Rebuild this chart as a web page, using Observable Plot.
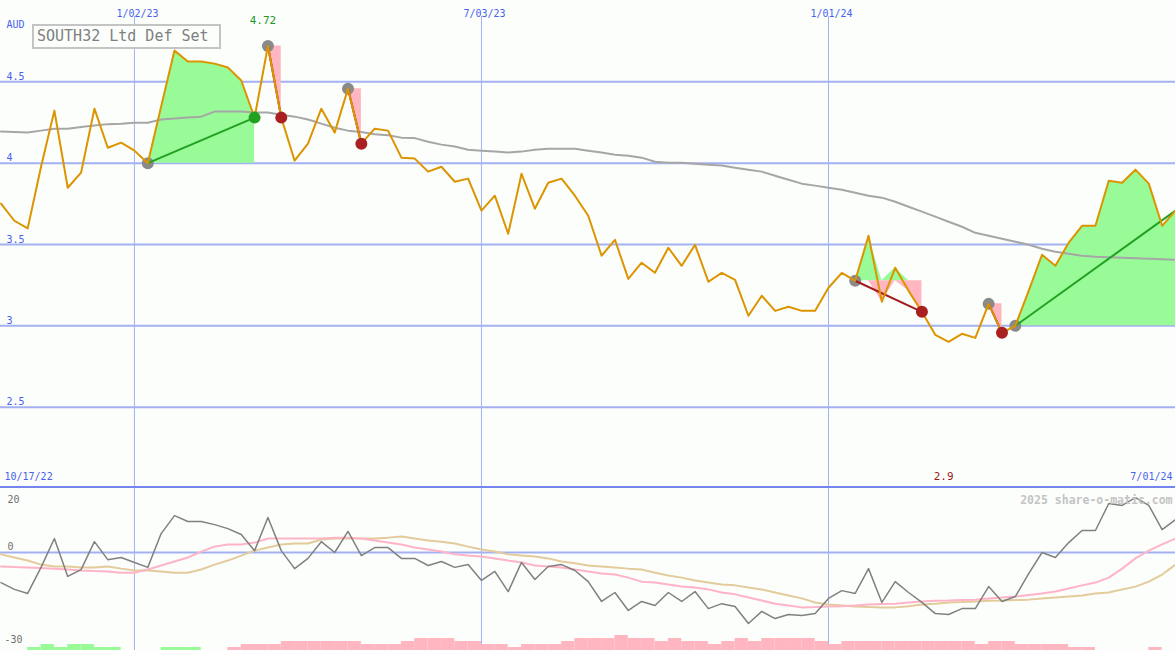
<!DOCTYPE html>
<html><head><meta charset="utf-8">
<script src="https://cdn.jsdelivr.net/npm/d3@7"></script>
<script src="https://cdn.jsdelivr.net/npm/@observablehq/plot@0.6"></script>
<style>
html,body{margin:0;padding:0;background:#fbfefb;}
#chart{position:relative;width:1175px;height:650px;overflow:hidden;background:#fbfefb;font-family:"DejaVu Sans Mono",monospace;}
#chart svg{position:absolute;left:0;}
#title{position:absolute;left:32px;top:24px;width:182px;height:21px;border:2px solid #c4c4c4;color:#7f7f7f;font:15px "DejaVu Sans Mono",monospace;line-height:21px;padding-left:3px;box-sizing:content-box;z-index:5;background:#fbfefb;}
#sep{position:absolute;left:0;top:486px;width:1175px;height:2px;background:#7486ee;z-index:4;}
</style></head><body><div id="chart"></div>
<script>
// ---------- data ----------
const titleText = "SOUTH32 Ltd Def Set";
const currency = "AUD";
const watermark = "2025 share-o-matic.com";
const firstWeek = "2022-10-24";
const price = [3.751,3.646,3.599,3.978,4.323,3.849,3.942,4.335,4.095,4.126,
4.077,4.0,4.348,4.692,4.625,4.625,4.612,4.588,4.508,4.28,
4.72,4.28,4.015,4.12,4.335,4.188,4.458,4.12,4.212,4.2,
4.034,4.028,3.948,3.978,3.886,3.905,3.708,3.8,3.566,3.935,
3.72,3.88,3.905,3.8,3.677,3.431,3.529,3.289,3.388,3.326,
3.48,3.369,3.498,3.271,3.326,3.283,3.062,3.185,3.092,3.117,
3.092,3.092,3.234,3.326,3.277,3.554,3.148,3.357,3.215,3.086,
2.945,2.902,2.951,2.926,3.135,2.957,3.0,3.215,3.437,3.369,
3.511,3.615,3.615,3.892,3.88,3.96,3.874,3.615,3.708];
const movingAvg = [4.194,4.191,4.188,4.2,4.212,4.212,4.222,4.231,4.24,4.243,
4.249,4.249,4.268,4.274,4.28,4.286,4.317,4.317,4.317,4.311,
4.311,4.298,4.286,4.268,4.243,4.218,4.2,4.191,4.178,4.172,
4.157,4.154,4.132,4.114,4.102,4.083,4.077,4.071,4.065,4.071,
4.083,4.089,4.089,4.089,4.077,4.065,4.052,4.046,4.034,4.009,
4.003,4.003,3.997,3.991,3.985,3.972,3.96,3.948,3.923,3.898,
3.874,3.862,3.849,3.837,3.818,3.8,3.788,3.763,3.732,3.702,
3.671,3.64,3.609,3.572,3.554,3.535,3.517,3.498,3.474,3.455,
3.443,3.431,3.425,3.422,3.418,3.415,3.412,3.409,3.406];
const oscillator = [-9.7,-11.9,-13.2,-4.8,4.5,-7.7,-5.5,3.5,-2.3,-1.6,
-3.2,-4.8,6.1,11.9,10.0,10.0,9.0,7.7,5.8,0.6,
11.3,0.6,-5.2,-1.9,3.5,0,6.8,-1.0,1.6,1.6,
-1.9,-1.9,-4.2,-2.9,-4.8,-3.9,-9.0,-6.1,-12.6,-3.2,
-8.7,-4.5,-3.9,-5.8,-9.4,-15.8,-12.9,-18.7,-15.8,-17.1,
-12.9,-15.8,-12.6,-18.1,-16.5,-17.4,-22.9,-19.0,-21.3,-20.0,
-20.3,-19.7,-14.8,-12.3,-13.2,-5.2,-16.1,-9.4,-12.9,-16.1,
-19.7,-20.0,-18.1,-18.1,-11.0,-15.8,-14.2,-6.8,0,-1.6,
3.2,7.1,7.1,15.8,15.2,17.7,15.2,7.4,10.6];
const oscPink = [-4.5,-4.7,-4.8,-5.0,-5.2,-5.5,-5.8,-6.0,-6.1,-6.5,
-6.5,-5.5,-4.2,-2.9,-1.6,0.3,1.9,2.6,2.6,3.2,
4.5,4.5,4.5,4.5,4.5,4.8,4.8,4.5,3.9,3.2,
2.6,1.6,1.0,0.3,-0.6,-1.0,-1.3,-1.9,-2.6,-3.2,
-4.2,-4.5,-4.8,-5.5,-6.1,-6.8,-7.1,-8.1,-9.4,-9.7,
-10.3,-11.0,-11.3,-11.9,-12.9,-13.5,-14.5,-15.5,-16.5,-17.1,
-17.7,-17.6,-17.4,-17.3,-17.1,-16.8,-16.6,-16.5,-16.1,-15.8,
-15.6,-15.5,-15.3,-15.2,-14.8,-14.5,-14.2,-13.7,-13.2,-12.6,
-11.6,-10.6,-9.7,-8.1,-5.2,-1.9,0.6,2.6,4.5];
const oscTan = [-0.6,-1.6,-2.6,-3.9,-4.5,-4.5,-4.8,-4.8,-4.5,-5.2,
-5.8,-5.8,-6.1,-6.5,-6.5,-5.5,-3.9,-2.6,-1.0,0.6,
1.6,2.6,2.9,2.9,4.2,4.5,4.5,4.5,4.5,4.8,
5.2,4.5,3.9,3.5,2.9,1.9,1.0,0.3,-0.6,-1.0,
-1.3,-1.9,-2.9,-3.5,-4.2,-4.5,-4.8,-5.2,-5.5,-6.5,
-7.4,-8.1,-9.0,-9.7,-10.3,-10.6,-11.3,-11.9,-12.9,-13.9,
-14.8,-16.1,-16.8,-17.1,-17.4,-17.6,-17.7,-17.7,-17.3,-16.8,
-16.5,-16.1,-16.0,-15.8,-15.6,-15.5,-15.3,-15.2,-14.8,-14.5,
-14.2,-13.9,-13.2,-12.9,-11.9,-11.0,-9.4,-7.1,-3.9];
// volume-like bars: + green, - pink (level units)
const barLevel = [0,0,1,2,1,2,2,1,1,0,
0,0,1,1,1,0,0,-1,-2,-2,
-2,-3,-3,-3,-3,-3,-3,-2,-2,-2,
-3,-4,-4,-4,-3,-3,-2,-2,-1,-2,
-2,-2,-3,-4,-4,-4,-5,-4,-4,-3,
-4,-3,-3,-2,-3,-4,-3,-4,-4,-4,
-4,-3,-2,-3,-3,-3,-3,-3,-3,-3,
-3,-3,-3,-2,-3,-3,-2,-2,-2,-2,
-1,-1,0,0,0,0,-1,0,0];
const signalStart = [11,20,26,64,74,76];
const signalEnd = [19,21,27,69,75,88];
const signalOpen = [false,false,false,false,false,true];
const xTickDates = ["2023-01-02","2023-07-03","2024-01-01"];
const xTickLabels = ["1/02/23","7/03/23","1/01/24"];
const edgeDateLabels = ["10/17/22","7/01/24"];
const yTicks = [2.5,3,3.5,4,4.5];
const oscLabels = [20,0,-30];

// ---------- build ----------
const t0 = new Date(firstWeek + "T00:00:00Z");
const dates = price.map((_, i) => d3.utcDay.offset(t0, 7 * i));
const tickDates = xTickDates.map(s => new Date(s + "T00:00:00Z"));
const rows = dates.map((date, i) => ({date, next: dates[i + 1], price: price[i], ma: movingAvg[i],
  osc: oscillator[i], pink: oscPink[i], tan: oscTan[i], bar: barLevel[i]}));
const signals = signalStart.map((s, j) => {
  const e = signalEnd[j];
  return {s, e, base: price[s], open: signalOpen[j], up: price[e] >= price[s], rows: rows.slice(s, e + 1)};
});
const iMax = d3.maxIndex(price), iMin = d3.minIndex(price);
const fmt = d3.format(".2~f");

const W = 1175, H1 = 488, H2 = 163;
const GRID = "#a3b1f2", BLUE = "#4b5ff0", GREEN = "#98fb98", PINK = "#ffb6c1";
const xOpt = {type: "utc", domain: [dates[0], dates[dates.length - 1]], range: [0.5, W], axis: null};
const baseStyle = {background: "transparent", overflow: "visible", fontFamily: "DejaVu Sans Mono, monospace", fontSize: "10px"};

const main = Plot.plot({
  width: W, height: H1, margin: 0,
  x: xOpt,
  y: {domain: [2, 5], axis: null},
  style: baseStyle,
  marks: [
    Plot.ruleY(yTicks, {stroke: GRID, strokeWidth: 2}),
    Plot.ruleX(tickDates, {stroke: GRID, strokeWidth: 1, insetTop: 16}),
    ...signals.flatMap(sg => [
      Plot.areaY(sg.rows, {x: "date", y1: sg.base, y2: d => Math.max(d.price, sg.base), fill: GREEN}),
      Plot.areaY(sg.rows, {x: "date", y1: d => Math.min(d.price, sg.base), y2: sg.base, fill: PINK})
    ]),
    Plot.line(rows, {x: "date", y: "ma", stroke: "#a6a6a6", strokeWidth: 2}),
    Plot.dot(signals, {x: d => dates[d.s], y: d => d.base, r: 6, fill: "#8a8a8a"}),
    Plot.link(signals, {x1: d => dates[d.s], y1: d => d.base, x2: d => dates[d.e], y2: d => price[d.e],
      stroke: d => d.up ? "#22a022" : "#a51c1c", strokeWidth: 2}),
    Plot.line(rows, {x: "date", y: "price", stroke: "#dc9400", strokeWidth: 2}),
    Plot.dot(signals.filter(d => !d.open), {x: d => dates[d.e], y: d => price[d.e], r: 6,
      fill: d => d.up ? "#22a022" : "#a82020"}),
    Plot.text(yTicks, {y: d => d, frameAnchor: "left", text: d => String(d), dx: 6, dy: -5, textAnchor: "start", fill: BLUE}),
    Plot.text([currency], {frameAnchor: "top-left", text: d => d, dx: 6, dy: 20, textAnchor: "start", fill: BLUE}),
    Plot.text(tickDates, {x: d => d, frameAnchor: "top", text: (d, i) => xTickLabels[i], dx: 3, dy: 9, fill: BLUE}),
    Plot.text([edgeDateLabels[0]], {frameAnchor: "bottom-left", text: d => d, dx: 4, dy: -9, textAnchor: "start", fill: BLUE}),
    Plot.text([edgeDateLabels[1]], {frameAnchor: "bottom-right", text: d => d, dx: -3, dy: -9, textAnchor: "end", fill: BLUE}),
    Plot.text([iMax], {x: d => dates[d], y: d => price[d], text: d => fmt(price[d]), dx: -5, dy: -26, fill: "#229922", fontSize: 11}),
    Plot.text([iMin], {x: d => dates[d], frameAnchor: "bottom", text: d => fmt(price[d]), dx: -5, dy: -9, fill: "#a01818", fontSize: 11})
  ]
});
main.style.top = "0px";

const lower = Plot.plot({
  width: W, height: H2, margin: 0,
  x: xOpt,
  y: {domain: [-31.61, 20.97], axis: null},
  style: baseStyle,
  marks: [
    Plot.ruleX(tickDates, {stroke: GRID, strokeWidth: 1}),
    Plot.ruleY([oscLabels[1]], {stroke: GRID, strokeWidth: 2}),
    Plot.line(rows, {x: "date", y: "tan", stroke: "#e3cb9b", strokeWidth: 2}),
    Plot.line(rows, {x: "date", y: "pink", stroke: "#ffb3c6", strokeWidth: 2}),
    Plot.line(rows, {x: "date", y: "osc", stroke: "#808080", strokeWidth: 1.5}),
    Plot.text([oscLabels[0]], {frameAnchor: "top-left", text: d => String(d), dx: 7, dy: 8, textAnchor: "start", fill: "#707070"}),
    Plot.text([oscLabels[1]], {y: d => d, frameAnchor: "left", text: d => String(d), dx: 7, dy: -6, textAnchor: "start", fill: "#707070"}),
    Plot.text([oscLabels[2]], {frameAnchor: "bottom-left", text: d => String(d), dx: 4, dy: -8, textAnchor: "start", fill: "#707070"}),
    Plot.text([watermark], {frameAnchor: "top-right", text: d => d, dx: -3, dy: 8, textAnchor: "end", fill: "#c4c4c4", fontSize: 11.5, fontWeight: "bold"})
  ]
});
lower.style.top = "487px";

const barsPlot = Plot.plot({
  width: W, height: 20, margin: 0,
  x: xOpt,
  y: {domain: [0, 20 / 3], axis: null},
  style: baseStyle,
  marks: [
    Plot.rect(rows.filter(d => d.bar > 0 && d.next), {x1: "date", x2: "next", y1: 0, y2: d => d.bar, fill: GREEN}),
    Plot.rect(rows.filter(d => d.bar < 0 && d.next), {x1: "date", x2: "next", y1: 0, y2: d => -d.bar, fill: PINK})
  ]
});
barsPlot.style.top = "630px";

const chart = document.getElementById("chart");
chart.appendChild(main);
chart.appendChild(lower);
chart.appendChild(barsPlot);
const sep = document.createElement("div"); sep.id = "sep"; chart.appendChild(sep);
const title = document.createElement("div"); title.id = "title"; title.textContent = titleText; chart.appendChild(title);
</script>
</body></html>
